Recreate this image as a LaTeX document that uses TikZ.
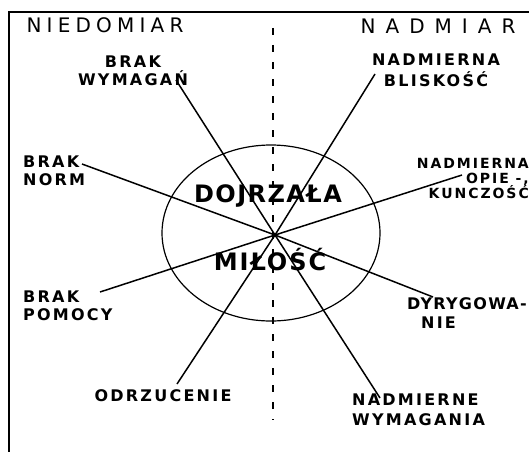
\documentclass[tikz,border=0pt]{standalone}
\usepackage{fontspec}
\setmainfont{DejaVu Sans}
\newfontfamily\handfont[LetterSpace=14]{DejaVu Sans}
\tikzset{
  tag/.style={font=\handfont\bfseries\fontsize{16}{18}\selectfont, inner sep=0pt},
  head/.style={font=\handfont\fontsize{20}{22}\selectfont, inner sep=0pt},
  core/.style={font=\handfont\bfseries\fontsize{24}{28}\selectfont, inner sep=0pt},
  spoke/.style={line width=1.5pt},
}
\begin{document}
\begin{tikzpicture}[x=1pt,y=-1pt]
\useasboundingbox (0,0) rectangle (529,452);
% frame and axis
\draw[line width=1.6pt] (529,12) -- (9,12) -- (9,452);
\draw[line width=1.5pt, dash pattern=on 7pt off 10pt] (273,28) -- (273,420);
\draw[line width=1.2pt] (271,233) ellipse [x radius=109, y radius=88];
\coordinate (c) at (275,235);
% headings
\node[head] (niedomiar) at (105,25) {\addfontfeature{LetterSpace=26}NIEDOMIAR};
\node[head] (nadmiar) at (438,26) {\addfontfeature{LetterSpace=50}NADMIAR};
% middle
\node[core, anchor=base] (dojrzala) at (268,202) {\addfontfeature{LetterSpace=6}DOJRZAŁA};
\node[core, anchor=base] (milosc) at (270,270) {\addfontfeature{LetterSpace=8}MIŁOŚĆ};
% labels
\node[tag, anchor=north, align=center] (wymagan) at (133,56) {BRAK\\WYMAGAŃ};
\node[tag, anchor=north, align=center] (bliskosc) at (436,54) {NADMIERNA\\[3pt]BLISKOŚĆ};
\node[tag, anchor=north east, align=right, font=\handfont\bfseries\fontsize{14}{15}\selectfont\addfontfeature{LetterSpace=14}] (opieka) at (529,158) {NADMIERNA\\OPIE -,\\KUNCZOŚĆ};
\node[tag, anchor=north west, align=left] (norm) at (23,156) {BRAK\\NORM};
\node[tag, anchor=north west, align=left] (pomoc) at (23,291) {BRAK\\POMOCY};
\node[tag, anchor=north east, align=left] (dyryg) at (527,297) {\addfontfeature{LetterSpace=8}DYRYGOWA-\\[1pt]\hspace{14pt}NIE};
\node[tag, anchor=north] (odrzuc) at (163,389) {ODRZUCENIE};
\node[tag, anchor=north west, align=left] (wymagania) at (352,394) {NADMIERNE\\[2pt]WYMAGANIA};
% spokes
\coordinate (e1) at (176,80);
\coordinate (e2) at (375,74);
\coordinate (e3) at (82,164);
\coordinate (e4) at (462,175);
\coordinate (e5) at (100,292);
\coordinate (e6) at (433,297);
\coordinate (e7) at (177,384);
\coordinate (e8) at (380,398);
\foreach \e in {e1,e2,e3,e4,e5,e6,e7,e8}
  \draw[spoke] (c) -- (\e);
\end{tikzpicture}
\end{document}
